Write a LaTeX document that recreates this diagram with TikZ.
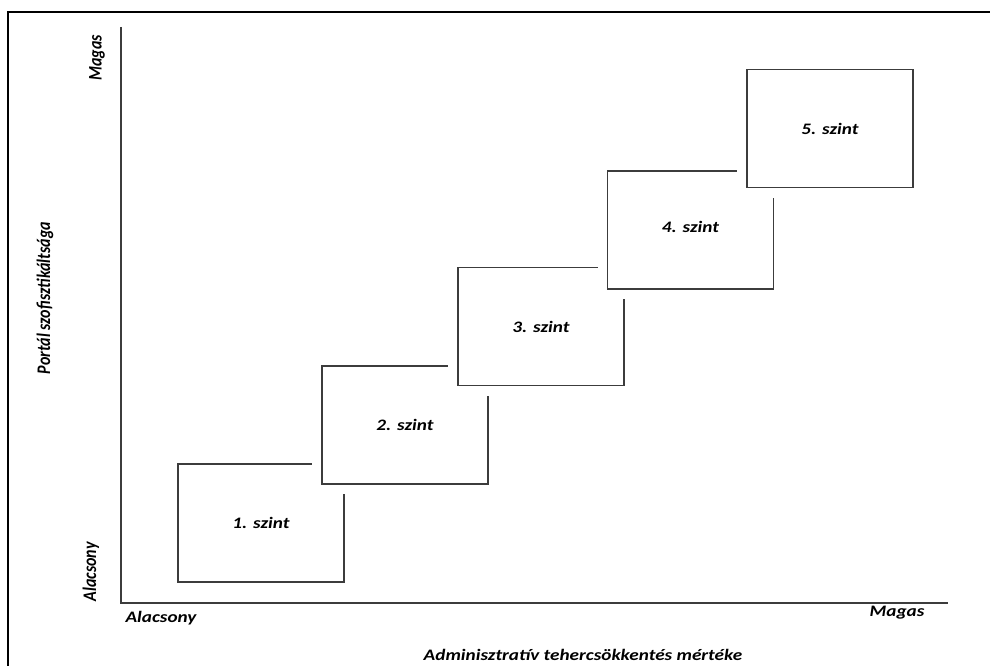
\documentclass[tikz,border=0pt]{standalone}
\usepackage{fontspec}
\setmainfont{Carlito}
\newcommand{\hstretch}[1]{\scalebox{1.2}[1]{#1}}
\newcommand{\vstretch}[1]{\scalebox{1}[1.2]{#1}}
\definecolor{linegray}{HTML}{3C3C3C}
\begin{document}
\begin{tikzpicture}[x=1pt,y=-1pt,
  txt/.style={font=\fontsize{16}{18}\selectfont\bfseries\itshape, inner sep=0pt, text=black},
  vtxt/.style={txt, rotate=90},
  level/.style={rectangle, draw=linegray, line width=1.3pt, fill=white,
    minimum width=166pt, minimum height=118pt, inner sep=0pt,
    preaction={draw=white, line width=20pt},
    font=\fontsize{16}{18}\selectfont\bfseries\itshape}]
\useasboundingbox (0,0) rectangle (990,666);
\clip (0,0) rectangle (990,666);
% outer frame
\draw[line width=2pt, black] (8,12) rectangle (1010,690);
% axes
\coordinate (O) at (121,603);
\coordinate (ytop) at (121,27);
\coordinate (xend) at (948,603);
\draw[linegray, line width=1.4pt] (ytop) |- (xend);
% levels
\node[level] (l1) at (261,523) {\hstretch{1. szint}\hspace{8pt}};
\node[level] (l2) at (405,425) {\hstretch{2. szint}\hspace{14pt}};
\node[level] (l3) at (541,326.5) {\hstretch{3. szint}\hspace{14pt}};
\node[level] (l4) at (690.5,230) {\raisebox{7pt}{\hstretch{4. szint}}\hspace{6pt}};
\node[level] (l5) at (830,128.5) {\raisebox{-2pt}{\hstretch{5. szint}}\hspace{10pt}};
% axis labels
\node[txt] (xlow) at (161,618) {\hstretch{Alacsony}};
\node[txt] (xhigh) at (897,613) {\hstretch{Magas}};
\node[txt] (xtitle) at (583,655) {\hstretch{Adminisztratív tehercsökkentés mértéke}};
\node[vtxt] (yhigh) at (97,58) {\vstretch{Magas}};
\node[vtxt] (ylow) at (91,572) {\vstretch{Alacsony}};
\node[vtxt] (ytitle) at (45,298) {\vstretch{Portál szofisztikáltsága}};
\end{tikzpicture}
\end{document}
